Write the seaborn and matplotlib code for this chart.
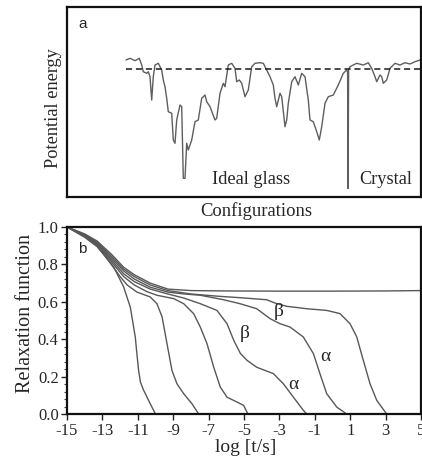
import numpy as np
import pandas as pd
import matplotlib
matplotlib.use("Agg")
import matplotlib.pyplot as plt
from matplotlib.ticker import MultipleLocator, FixedLocator
import seaborn as sns

# ---------------- data: panel a (energy landscape, arbitrary units) -------------
config = [59.0, 63.0, 68.0, 72.3, 74.7, 76.3, 79.7, 81.3, 83.0, 84.7,
          86.3, 88.0, 91.3, 94.7, 96.3, 98.0, 99.7, 101.3, 104.7, 106.3,
          108.0, 109.7, 113.0, 114.7, 116.3, 118.0, 119.7, 121.3, 124.7, 128.0,
          131.3, 134.7, 138.0, 139.7, 143.0, 148.0, 149.7, 153.0, 156.3, 158.0,
          161.3, 164.7, 168.0, 169.7, 172.3, 174.7, 178.0, 181.3, 184.7, 188.0,
          193.0, 196.3, 199.7, 203.0, 206.3, 208.0, 209.7, 213.0, 214.7, 218.0,
          219.7, 221.3, 224.7, 228.0, 231.3, 234.7, 238.0, 241.3, 243.0, 246.3,
          249.7, 252.3, 254.7, 258.0, 261.3, 266.3, 271.3, 276.3, 279.7, 280.6,
          281.1, 281.6, 283.0, 286.3, 289.7, 296.3, 301.3, 304.7, 308.0, 309.7,
          313.0, 314.7, 316.3, 319.7, 323.0, 328.0, 333.0, 338.0, 343.0, 348.0,
          353.0]
energy = [137.0, 138.7, 136.3, 138.7, 132.0, 125.3, 123.7, 125.3, 120.3, 97.0,
          120.3, 132.0, 133.7, 127.0, 117.0, 110.3, 98.7, 85.3, 83.7, 57.0,
          53.7, 77.0, 92.0, 90.3, 18.7, 18.7, 53.7, 47.0, 57.0, 75.3,
          77.0, 98.7, 102.0, 95.3, 90.3, 77.0, 78.7, 103.7, 113.7, 110.3,
          132.0, 133.7, 128.7, 115.3, 117.0, 113.7, 100.3, 107.0, 130.3, 133.7,
          134.3, 133.7, 127.0, 120.3, 112.0, 98.7, 90.3, 103.7, 100.3, 70.3,
          77.0, 93.7, 115.3, 120.3, 112.0, 123.7, 120.3, 97.0, 77.0, 75.3,
          65.3, 57.0, 70.3, 93.7, 100.3, 102.0, 112.0, 123.7, 127.0, 125.0,
          8.5, 127.0, 130.3, 132.0, 133.7, 132.0, 134.3, 128.7, 120.3, 115.3,
          122.0, 120.3, 113.7, 117.0, 128.7, 133.7, 132.0, 134.3, 133.0, 135.3,
          137.0]
glass_level = 127.7
glass_span = [59.0, 354.0]

# ---------------- data: panel b (relaxation functions) ----------------
t1 = [-15, -14, -13.3, -12.9, -12.36, -11.8, -11.42, -11.14, -11.05, -10.95, -10.85, -10.67, -10.3, -10.0]
p1 = [1.0, 0.945, 0.895, 0.85, 0.786, 0.68, 0.57, 0.41, 0.32, 0.23, 0.17, 0.127, 0.055, 0.0]
t2 = [-15, -14, -13.3, -12.5, -12.0, -11.6, -11.05, -10.3, -9.92, -9.63, -9.35, -9.07, -8.79, -8.41, -7.94, -7.56]
p2 = [1.0, 0.948, 0.9, 0.8, 0.735, 0.69, 0.652, 0.626, 0.59, 0.52, 0.376, 0.233, 0.162, 0.109, 0.055, 0.0]
t3 = [-15, -14, -13.3, -12.5, -11.8, -11.2, -10.5, -9.92, -8.97, -8.41, -7.84, -7.47, -7.09, -6.71, -6.34, -5.96, -5.4, -5.02, -4.78]
p3 = [1.0, 0.952, 0.905, 0.815, 0.735, 0.69, 0.655, 0.635, 0.617, 0.59, 0.536, 0.465, 0.376, 0.25, 0.144, 0.09, 0.064, 0.046, 0.0]
t4 = [-15, -14, -13.3, -12.5, -11.8, -11.2, -10.3, -9.35, -8.4, -7.47, -6.53, -5.96, -5.58, -5.2, -4.83, -4.28, -3.34, -2.78, -2.21, -1.65, -1.46]
p4 = [1.0, 0.955, 0.91, 0.825, 0.75, 0.708, 0.668, 0.643, 0.62, 0.59, 0.554, 0.483, 0.394, 0.323, 0.287, 0.25, 0.216, 0.162, 0.09, 0.02, 0.0]
t5 = [-15, -14, -13.3, -12.5, -11.8, -11.2, -10.3, -9.3, -8.4, -7.47, -6.2, -5.23, -4.28, -3.53, -2.97, -2.4, -1.65, -1.08, -0.71, -0.33, 0.24, 0.8]
p5 = [1.0, 0.957, 0.915, 0.835, 0.765, 0.722, 0.678, 0.652, 0.642, 0.635, 0.612, 0.59, 0.563, 0.51, 0.483, 0.465, 0.412, 0.323, 0.216, 0.109, 0.037, 0.0]
t6 = [-15, -14, -13.3, -12.5, -11.8, -11.2, -10.3, -9.3, -8.0, -6.5, -5.23, -3.72, -3.15, -2.59, -1.46, -0.33, 0.42, 0.99, 1.37, 1.74, 2.12, 2.5, 3.06]
p6 = [1.0, 0.96, 0.92, 0.845, 0.775, 0.735, 0.69, 0.66, 0.642, 0.63, 0.622, 0.611, 0.59, 0.576, 0.563, 0.554, 0.537, 0.483, 0.412, 0.287, 0.162, 0.073, 0.0]
t7 = [-15, -14, -13.3, -12.5, -11.8, -11.2, -10.3, -9.3, -8.0, -6.0, -3.0, 0.0, 3.0, 5.0]
p7 = [1.0, 0.963, 0.925, 0.855, 0.785, 0.745, 0.70, 0.668, 0.66, 0.658, 0.657, 0.657, 0.658, 0.66]

greek_labels = ["β", "β", "α", "α"]
greek_x = [-3.04, -4.96, -0.40, -2.19]
greek_y = [0.549, 0.433, 0.308, 0.157]

xticks_b = [-15, -13, -11, -9, -7, -5, -3, -1, 1, 3, 5]
yticks_b = [0.0, 0.2, 0.4, 0.6, 0.8, 1.0]

# ---------------- figure ----------------
sns.set_style("white")
plt.rcParams["font.family"] = ["Liberation Serif", "DejaVu Serif"]

W, H = 422, 458
fig = plt.figure(figsize=(W / 100, H / 100), dpi=100, facecolor="white")

def rect(l, t, r, b):
    return [l / W, 1 - b / H, (r - l) / W, (b - t) / H]

axa = fig.add_axes(rect(67, 7, 421, 197))
axb = fig.add_axes(rect(67, 227, 421, 414))

# ----- panel a -----
dfa = pd.DataFrame({"config": config, "energy": energy})
sns.lineplot(data=dfa, x="config", y="energy", ax=axa, sort=False,
             estimator=None, color="#5e5e5e", linewidth=1.0)
dfl = pd.DataFrame({"config": glass_span, "energy": [glass_level] * 2})
sns.lineplot(data=dfl, x="config", y="energy", ax=axa, sort=False,
             estimator=None, color="#1a1a1a", linewidth=1.1, dashes=False)
axa.lines[-1].set_dashes([4, 2.5])
axa.set_xlim(0, 354)
axa.set_ylim(0, 190)
axa.set_xticks([])
axa.set_yticks([])
for s in axa.spines.values():
    s.set_visible(True)
    s.set_linewidth(1.6)
    s.set_color("#111111")
axa.set_xlabel("Configurations", fontsize=13.4)
axa.xaxis.set_label_coords(0.534, -0.025)
axa.set_ylabel("Potential energy", fontsize=13.2)
axa.yaxis.set_label_coords(-0.014, 0.468)
axa.text(0.031, 0.889, "a", transform=axa.transAxes, fontsize=11,
         family=["Liberation Sans", "DejaVu Sans"], ha="left", va="baseline")
axa.text(184, 13, "Ideal glass", fontsize=13.2, ha="center", va="baseline")
axa.text(319, 13, "Crystal", fontsize=13.2, ha="center", va="baseline")

# ----- panel b -----
curves = [(t1, p1), (t2, p2), (t3, p3), (t4, p4), (t5, p5), (t6, p6), (t7, p7)]
rows = []
for i, (tt, pp) in enumerate(curves):
    for a, b in zip(tt, pp):
        rows.append({"logt": a, "phi": b, "curve": i})
dfb = pd.DataFrame(rows)
sns.lineplot(data=dfb, x="logt", y="phi", units="curve", estimator=None,
             sort=False, ax=axb, color="#585858", linewidth=1.0)
axb.set_xlim(-15, 5)
axb.set_ylim(0, 1)
axb.xaxis.set_major_locator(FixedLocator(xticks_b))
axb.set_xticklabels([str(v) for v in xticks_b])
axb.yaxis.set_major_locator(FixedLocator(yticks_b))
axb.set_yticklabels([f"{v:.1f}" for v in yticks_b])
axb.yaxis.set_minor_locator(MultipleLocator(0.04))
axb.tick_params(axis="both", which="major", direction="out", length=4,
                width=1.0, color="#222222", labelsize=12, pad=2,
                left=True, bottom=True)
axb.tick_params(axis="y", which="minor", direction="out", length=2,
                width=0.8, color="#444444", left=True)
axb.tick_params(axis="x", which="major", pad=2.5)
for s in axb.spines.values():
    s.set_visible(True)
    s.set_linewidth(1.6)
    s.set_color("#111111")
axb.set_xlabel("log [t/s]", fontsize=14)
axb.xaxis.set_label_coords(0.505, -0.135)
axb.set_ylabel("Relaxation function", fontsize=14.5)
axb.yaxis.set_label_coords(-0.09, 0.54)
axb.text(0.031, 0.861, "b", transform=axb.transAxes, fontsize=11,
         family=["Liberation Sans", "DejaVu Sans"], ha="left", va="baseline")
for lab, gx, gy in zip(greek_labels, greek_x, greek_y):
    axb.text(gx, gy, lab, fontsize=14, ha="center", va="center")

fig.savefig("out.png", dpi=100, facecolor="white")
